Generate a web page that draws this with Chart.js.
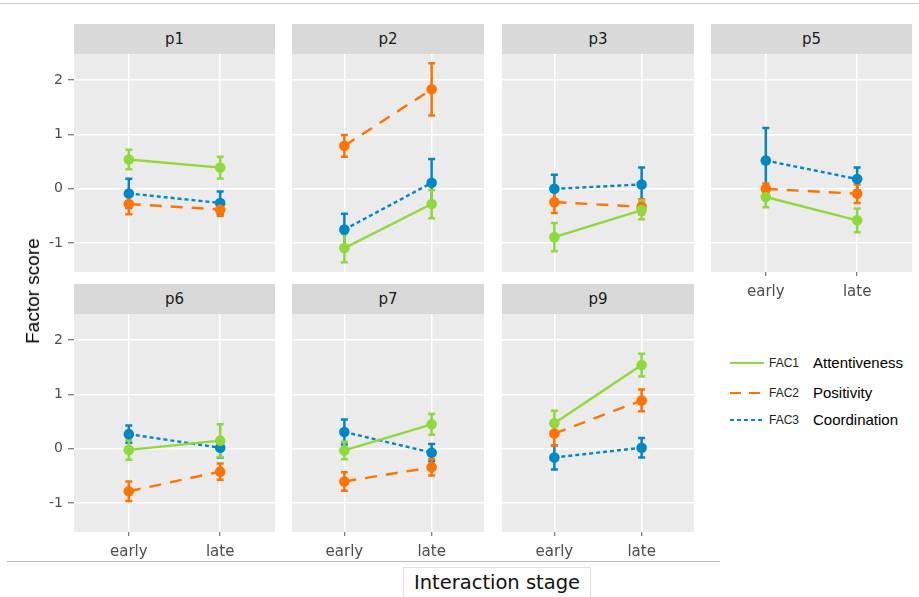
<!DOCTYPE html>
<html><head><meta charset="utf-8">
<script src="https://cdn.jsdelivr.net/npm/chart.js@4"></script>
<style>
body{margin:0;background:#fff;}
#root{position:relative;width:919px;height:597px;overflow:hidden;background:#fff;}
.strip{position:absolute;background:#d9d9d9;color:#1a1a1a;font:15px "DejaVu Sans";text-align:center;}
canvas{position:absolute;}
.abs{position:absolute;white-space:nowrap;}
</style></head>
<body><div id="root"></div>
<script>
// ---- data ----
const panels = ['p1','p2','p3','p5','p6','p7','p9'];
const stages = ['early','late'];
const factors = ['FAC1','FAC2','FAC3'];
const factorNames = ['Attentiveness','Positivity','Coordination'];
// mean factor scores [early, late] per panel
const fac1Mean = [[0.54,0.39],[-1.09,-0.28],[-0.89,-0.39],[-0.15,-0.58],[-0.02,0.15],[-0.03,0.45],[0.47,1.54]];
const fac2Mean = [[-0.28,-0.38],[0.79,1.83],[-0.245,-0.33],[0.0,-0.09],[-0.78,-0.42],[-0.60,-0.34],[0.28,0.89]];
const fac3Mean = [[-0.085,-0.26],[-0.75,0.11],[0.0,0.08],[0.52,0.18],[0.27,0.02],[0.31,-0.07],[-0.16,0.02]];
// error bar half-widths [early, late] per panel
const fac1Err = [[0.18,0.20],[0.26,0.26],[0.26,0.17],[0.19,0.22],[0.18,0.30],[0.16,0.19],[0.23,0.21]];
const fac2Err = [[0.19,0.12],[0.20,0.48],[0.20,0.14],[0.10,0.17],[0.18,0.15],[0.17,0.15],[0.22,0.20]];
const fac3Err = [[0.27,0.21],[0.29,0.44],[0.26,0.31],[0.60,0.21],[0.16,0.18],[0.23,0.16],[0.22,0.18]];
const yTicks = [-1,0,1,2];

// ---- styling / layout ----
const means = [fac1Mean, fac2Mean, fac3Mean];
const errs = [fac1Err, fac2Err, fac3Err];
const colors = ['#8fd93a','#ff7400','#0088c6'];
const dashes = [[],[12,9],[4,3]];
const geom = [
  {l:74, t:54, w:201, sy:true,  sx:false},
  {l:292,t:54, w:192, sy:false, sx:false},
  {l:502,t:54, w:192, sy:false, sx:false},
  {l:711,t:54, w:201, sy:false, sx:true},
  {l:74, t:314,w:201, sy:true,  sx:true},
  {l:292,t:314,w:192, sy:false, sx:true},
  {l:502,t:314,w:192, sy:false, sx:true}
];
const PLOT_H = 218, STRIP_H = 30, YW = 40, XH = 34;
const root = document.getElementById('root');

function addDiv(cls, style, text){
  const d = document.createElement('div');
  d.className = cls; Object.assign(d.style, style);
  if (text !== undefined) d.textContent = text;
  root.appendChild(d); return d;
}
function noPad(s){ s.paddingTop = 0; s.paddingBottom = 0; s.paddingLeft = 0; s.paddingRight = 0; }

const bgPlugin = {id:'bg', beforeDraw(chart){
  const a = chart.chartArea, ctx = chart.ctx;
  ctx.save(); ctx.fillStyle = '#ebebeb';
  ctx.fillRect(a.left, a.top, a.right - a.left, a.bottom - a.top);
  ctx.restore();
}};
const errPlugin = {id:'err', beforeDatasetsDraw(chart){
  const ctx = chart.ctx, xs = chart.scales.x, ys = chart.scales.y;
  for (let k = chart.data.datasets.length - 1; k >= 0; k--) {
    const ds = chart.data.datasets[k];
    ctx.save(); ctx.strokeStyle = ds.borderColor; ctx.lineWidth = 2.5; ctx.setLineDash([]);
    ds.data.forEach((p, j) => {
      const x = xs.getPixelForValue(p.x);
      const y1 = ys.getPixelForValue(p.y - ds.errVals[j]);
      const y2 = ys.getPixelForValue(p.y + ds.errVals[j]);
      ctx.beginPath();
      ctx.moveTo(x, y1); ctx.lineTo(x, y2);
      ctx.moveTo(x - 3.5, y1); ctx.lineTo(x + 3.5, y1);
      ctx.moveTo(x - 3.5, y2); ctx.lineTo(x + 3.5, y2);
      ctx.stroke();
    });
    ctx.restore();
  }
}};

panels.forEach((name, i) => {
  const g = geom[i];
  const yw = g.sy ? YW : 0, xh = g.sx ? XH : 0;
  addDiv('strip', {left:g.l+'px', top:(g.t-STRIP_H)+'px', width:g.w+'px', height:STRIP_H+'px', lineHeight:STRIP_H+'px'}, name);
  const c = document.createElement('canvas');
  c.width = g.w + yw; c.height = PLOT_H + xh;
  c.style.left = (g.l - yw) + 'px'; c.style.top = g.t + 'px';
  c.style.width = c.width + 'px'; c.style.height = c.height + 'px';
  root.appendChild(c);
  new Chart(c, {
    type: 'line',
    data: { datasets: factors.map((f, k) => ({
      label: f,
      data: stages.map((s, j) => ({x: j + 1, y: means[k][i][j]})),
      errVals: errs[k][i],
      borderColor: colors[k], backgroundColor: colors[k],
      borderWidth: 2.4, borderDash: dashes[k],
      pointRadius: 5.3, pointHoverRadius: 5.3, pointBorderWidth: 0,
      pointBackgroundColor: colors[k], fill: false, tension: 0
    }))},
    options: {
      responsive: false, animation: false, devicePixelRatio: 1, events: [],
      layout: {padding: 0, autoPadding: false},
      plugins: {legend: {display: false}, tooltip: {enabled: false}},
      scales: {
        x: {
          type: 'linear', min: 0.4, max: 2.6,
          afterBuildTicks: s => { s.ticks = [{value:1},{value:2}]; },
          afterFit: s => { s.height = xh; noPad(s); },
          grid: {color:'#ffffff', lineWidth:1.5, drawTicks:g.sx, tickLength:4, tickColor:'#555', tickWidth:1},
          border: {display:false},
          ticks: {display:g.sx, padding:7, color:'#4d4d4d', font:{family:'DejaVu Sans', size:15},
                  maxRotation:0, autoSkip:false, callback: v => stages[v - 1] ?? ''}
        },
        y: {
          type: 'linear', min: -1.53, max: 2.48,
          afterBuildTicks: s => { s.ticks = yTicks.map(v => ({value:v})); },
          afterFit: s => { s.width = yw; noPad(s); },
          grid: {color:'#ffffff', lineWidth:1.5, drawTicks:g.sy, tickLength:6, tickColor:'#555', tickWidth:1},
          border: {display:false},
          ticks: {display:g.sy, padding:5, color:'#4d4d4d', font:{family:'DejaVu Sans', size:14},
                  callback: v => String(v)}
        }
      }
    },
    plugins: [bgPlugin, errPlugin]
  });
});

// frame lines
addDiv('abs', {left:'0px', top:'3px', width:'919px', height:'1px', background:'#cccccc'});
addDiv('abs', {left:'7px', top:'561px', width:'713px', height:'1px', background:'#bbbbbb'});

// axis titles
addDiv('abs', {left:'33px', top:'291px', transform:'translate(-50%,-50%) rotate(-90deg)',
  font:'19px "Liberation Sans"', color:'#000'}, 'Factor score');
addDiv('abs', {left:'403px', top:'567px', width:'186px', height:'40px', borderLeft:'1px solid #dddddd',
  borderRight:'1px solid #dddddd', borderTop:'1px solid #dddddd', background:'#fff', textAlign:'center',
  font:'19.5px "DejaVu Sans"', lineHeight:'29px', color:'#111'}, 'Interaction stage');

// legend
const legY = [363, 392.5, 419.5];
factors.forEach((f, k) => {
  const svgNS = 'http://www.w3.org/2000/svg';
  const svg = document.createElementNS(svgNS, 'svg');
  svg.setAttribute('width', '34'); svg.setAttribute('height', '6');
  svg.style.position = 'absolute'; svg.style.left = '730px'; svg.style.top = (legY[k] - 3) + 'px';
  const ln = document.createElementNS(svgNS, 'line');
  ln.setAttribute('x1', '0'); ln.setAttribute('x2', '34'); ln.setAttribute('y1', '3'); ln.setAttribute('y2', '3');
  ln.setAttribute('stroke', colors[k]); ln.setAttribute('stroke-width', '2');
  if (dashes[k].length) ln.setAttribute('stroke-dasharray', k === 1 ? '11,8' : '4,3');
  svg.appendChild(ln); root.appendChild(svg);
  addDiv('abs', {left:'769px', top:(legY[k] - 9) + 'px', font:'12px "Liberation Sans"', lineHeight:'18px', color:'#222'}, f);
  addDiv('abs', {left:'813px', top:(legY[k] - 10) + 'px', font:'15px "Liberation Sans"', lineHeight:'20px', color:'#000'}, factorNames[k]);
});
</script>
</body></html>
